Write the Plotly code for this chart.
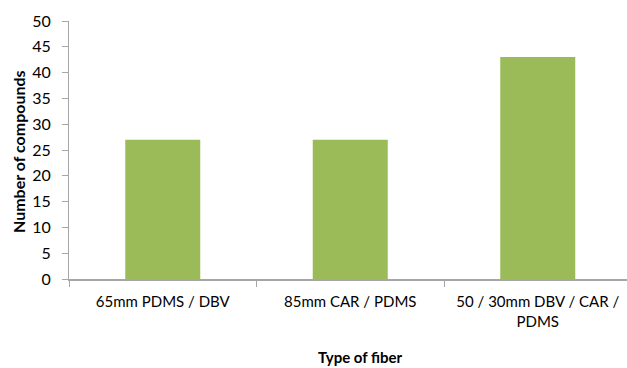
import plotly.graph_objects as go

# Number of compounds extracted by each SPME fiber type
fibers = ["65mm PDMS / DBV", "85mm CAR / PDMS", "50 / 30mm DBV / CAR /<br>PDMS"]
compounds = [27, 27, 43]

y_ticks = list(range(0, 51, 5))

bar_color = "#9BBB59"
axis_color = "#A6A6A6"
font_family = "Lato, 'Open Sans', sans-serif"

fig = go.Figure(
    go.Bar(
        x=fibers,
        y=compounds,
        marker=dict(color=bar_color, line=dict(width=0)),
        width=0.4,
    )
)

fig.update_layout(
    width=627,
    height=368,
    margin=dict(l=69, r=0, t=21, b=89),
    paper_bgcolor="white",
    plot_bgcolor="white",
    showlegend=False,
    font=dict(family=font_family, size=15, color="#000000"),
    xaxis=dict(
        type="category",
        range=[-0.5, 2.476],
        tickson="boundaries",
        ticks="outside",
        ticklen=6,
        tickcolor=axis_color,
        showline=True,
        linecolor=axis_color,
        linewidth=2,
        showgrid=False,
        zeroline=False,
        ticklabelstandoff=8,
        tickfont=dict(size=15),
    ),
    yaxis=dict(
        range=[0, 50],
        tickvals=y_ticks,
        ticks="outside",
        ticklen=6,
        tickcolor=axis_color,
        showline=True,
        linecolor=axis_color,
        linewidth=1,
        showgrid=False,
        zeroline=False,
        ticklabelstandoff=8,
        tickfont=dict(size=16),
    ),
    annotations=[
        dict(
            text="<b>Number of compounds</b>",
            xref="paper", yref="paper",
            x=(18 - 69) / 558, y=(279 - 152) / 258,
            xanchor="center", yanchor="middle",
            textangle=-90, showarrow=False,
            font=dict(size=16),
        ),
        dict(
            text="<b>Type of fiber</b>",
            xref="paper", yref="paper",
            x=(360 - 69) / 558, y=-(357 - 279) / 258,
            xanchor="center", yanchor="middle",
            showarrow=False,
            font=dict(size=15),
        ),
    ],
)

fig.write_html("out.html")
